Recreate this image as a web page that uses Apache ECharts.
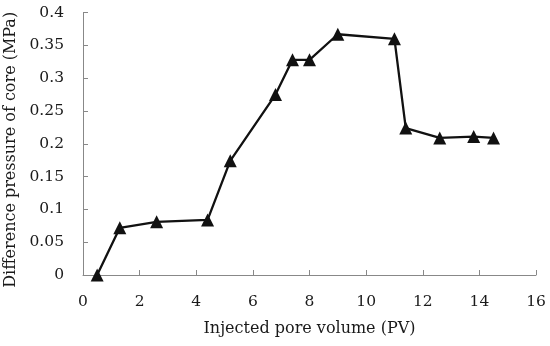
<!DOCTYPE html>
<html><head><meta charset="utf-8">
<script src="https://cdn.jsdelivr.net/npm/echarts@6/dist/echarts.min.js"></script>
<style>html,body{margin:0;padding:0;background:#fff}#c{width:550px;height:346px}</style>
</head><body><div id="c"></div>
<script>
const pvValues = [0.5, 1.3, 2.6, 4.4, 5.2, 6.8, 7.4, 8.0, 9.0, 11.0, 11.4, 12.6, 13.8, 14.5];
const pressureValues = [0, 0.072, 0.081, 0.084, 0.174, 0.275, 0.328, 0.328, 0.367, 0.360, 0.224, 0.209, 0.211, 0.209];
const xTitle = 'Injected pore volume (PV)';
const yTitle = 'Difference pressure of core (MPa)';

const font = '"DejaVu Serif", serif';
const chart = echarts.init(document.getElementById('c'));
chart.setOption({
  animation: false,
  grid: {left: 83, right: 14, top: 12.6, bottom: 71, outerBoundsMode: 'none', containLabel: false},
  xAxis: {
    type: 'value', min: 0, max: 16, interval: 2,
    name: xTitle, nameLocation: 'middle', nameGap: 46,
    nameTextStyle: {fontFamily: font, fontSize: 16, color: '#1a1a1a'},
    axisLine: {lineStyle: {color: '#888', width: 1}},
    axisTick: {inside: true, length: 5, lineStyle: {color: '#888'}},
    axisLabel: {fontFamily: font, fontSize: 15.5, color: '#1a1a1a', margin: 19},
    splitLine: {show: false}
  },
  yAxis: {
    type: 'value', min: 0, max: 0.4, interval: 0.05,
    name: yTitle, nameLocation: 'middle', nameGap: 61,
    nameTextStyle: {fontFamily: font, fontSize: 16, color: '#1a1a1a', padding: [0, 12, 0, 0]},
    axisLine: {show: true, lineStyle: {color: '#888', width: 1}},
    axisTick: {show: true, inside: true, length: 5, lineStyle: {color: '#888'}},
    axisLabel: {fontFamily: font, fontSize: 15.5, color: '#1a1a1a', margin: 19,
      formatter: v => String(+v.toFixed(2))},
    splitLine: {show: false}
  },
  series: [{
    type: 'line',
    data: pvValues.map((x, i) => [x, pressureValues[i]]),
    symbol: 'triangle', symbolSize: 13,
    itemStyle: {color: '#111'},
    lineStyle: {color: '#111', width: 2.3},
    clip: false
  }]
});
</script></body></html>
